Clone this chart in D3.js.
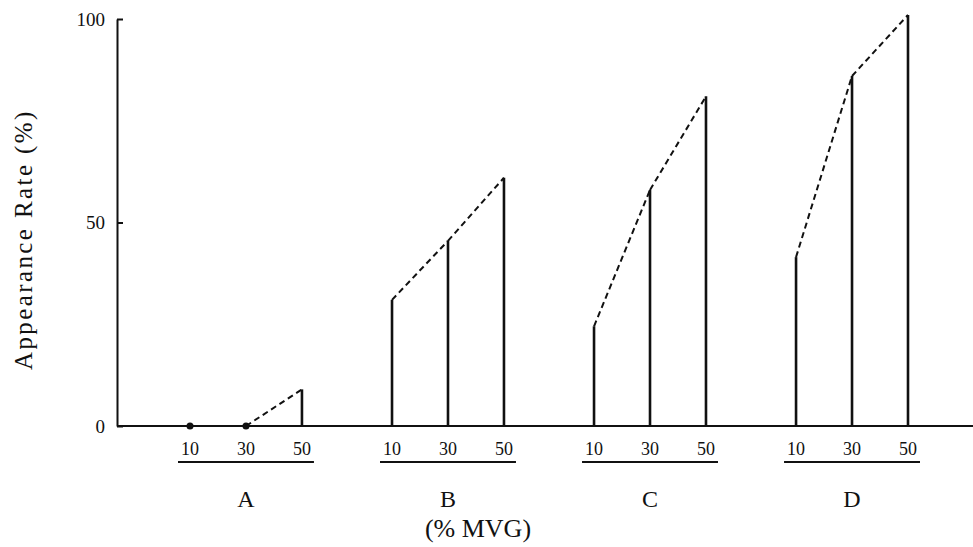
<!DOCTYPE html>
<html>
<head>
<meta charset="utf-8">
<script src="https://cdn.jsdelivr.net/npm/d3@7"></script>
<style>
  html, body { margin: 0; padding: 0; background: #fff; }
  svg { display: block; }
  text { font-family: "Liberation Serif", "DejaVu Serif", serif; fill: #111; }
</style>
</head>
<body>
<svg id="chart" width="973" height="547"></svg>
<script>
// ---- data ----
const groups = ["A", "B", "C", "D"];
const mvgLevels = [10, 30, 50];
const valuesA = [0, 0, 9];
const valuesB = [31, 45.5, 61];
const valuesC = [24.5, 58, 81];
const valuesD = [41.5, 86, 101];
const yTicks = [0, 50, 100];
const yLabel = "Appearance Rate (%)";
const xLabel = "(% MVG)";

const seriesByGroup = { A: valuesA, B: valuesB, C: valuesC, D: valuesD };

// ---- layout ----
const W = 973, H = 547;
const axisX = 117;
const svg = d3.select("#chart");
const ink = "#111";

const y = d3.scaleLinear().domain([0, 100]).range([426, 19]);
const xGroup = d3.scaleBand().domain(groups).range([178, 920]).paddingInner(0.327).paddingOuter(0);
const inset = 12;
const xIn = d3.scaleLinear().domain([10, 50]).range([inset, xGroup.bandwidth() - inset]);
const xPos = (g, m) => xGroup(g) + xIn(m);

// y axis
const yAxis = d3.axisLeft(y).tickValues(yTicks).tickSizeInner(-6).tickSizeOuter(0).tickPadding(12);
const gy = svg.append("g").attr("transform", `translate(${axisX},0)`).call(yAxis);
gy.select(".domain").attr("stroke", ink).attr("stroke-width", 2);
gy.selectAll(".tick line").attr("stroke", ink).attr("stroke-width", 2);
gy.selectAll(".tick text").attr("font-size", 19).attr("font-family", "Liberation Serif").attr("fill", ink);

// x axis baseline
svg.append("line")
  .attr("x1", axisX).attr("x2", W)
  .attr("y1", y(0)).attr("y2", y(0))
  .attr("stroke", ink).attr("stroke-width", 2);

// y label (reads bottom to top)
svg.append("text")
  .attr("transform", `translate(32,370) rotate(-90)`)
  .attr("text-anchor", "start")
  .attr("font-size", 25)
  .attr("letter-spacing", 2.4)
  .text(yLabel);

// groups
groups.forEach(g => {
  const vals = seriesByGroup[g];
  const gg = svg.append("g");

  // vertical bars / dots
  vals.forEach((v, i) => {
    const x = xPos(g, mvgLevels[i]);
    if (v === 0) {
      gg.append("circle").attr("cx", x).attr("cy", y(0)).attr("r", 3.5).attr("fill", ink);
    } else {
      gg.append("line")
        .attr("x1", x).attr("x2", x)
        .attr("y1", y(0)).attr("y2", y(v))
        .attr("stroke", ink).attr("stroke-width", 2.6);
    }
  });

  // dashed connecting segments
  for (let i = 0; i < vals.length - 1; i++) {
    if (vals[i] === 0 && vals[i + 1] === 0) continue;
    gg.append("line")
      .attr("x1", xPos(g, mvgLevels[i])).attr("y1", y(vals[i]))
      .attr("x2", xPos(g, mvgLevels[i + 1])).attr("y2", y(vals[i + 1]))
      .attr("stroke", ink).attr("stroke-width", 2)
      .attr("stroke-dasharray", "6,4");
  }

  // level labels
  mvgLevels.forEach(m => {
    gg.append("text")
      .attr("x", xPos(g, m)).attr("y", 455)
      .attr("text-anchor", "middle")
      .attr("font-size", 18)
      .text(m);
  });

  // underline
  gg.append("line")
    .attr("x1", xGroup(g)).attr("x2", xGroup(g) + xGroup.bandwidth())
    .attr("y1", 462).attr("y2", 462)
    .attr("stroke", ink).attr("stroke-width", 2);

  // group letter
  gg.append("text")
    .attr("x", xGroup(g) + xGroup.bandwidth() / 2)
    .attr("y", 507)
    .attr("text-anchor", "middle")
    .attr("font-size", 24)
    .text(g);
});

// x label
svg.append("text")
  .attr("x", xGroup("B") + xGroup.bandwidth() / 2 + 30)
  .attr("y", 537)
  .attr("text-anchor", "middle")
  .attr("font-size", 26)
  .text(xLabel);
</script>
</body>
</html>
